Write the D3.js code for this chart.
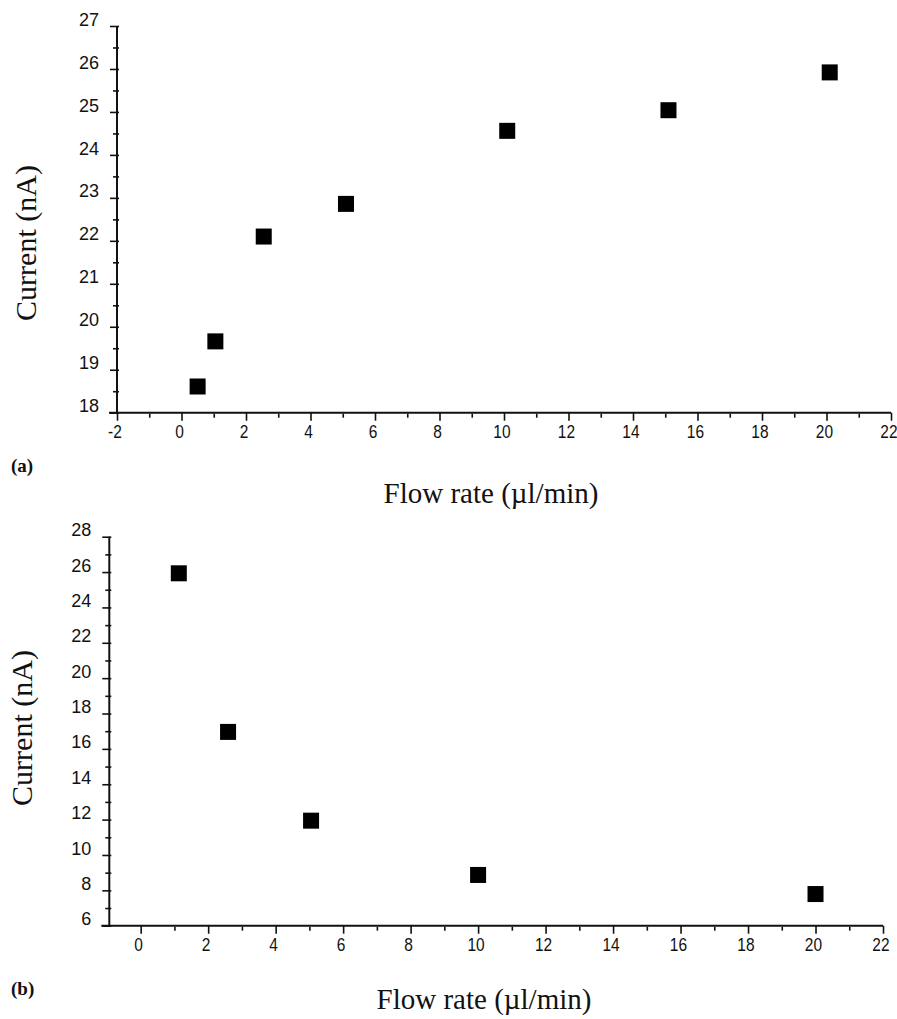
<!DOCTYPE html>
<html>
<head>
<meta charset="utf-8">
<script src="https://cdn.jsdelivr.net/npm/d3@7"></script>
<style>
  html, body { margin: 0; padding: 0; background: #fff; }
  svg { display: block; }
  .tick text { font-family: "Liberation Sans", Arial, sans-serif; font-size: 18px; fill: #111; }
  .title { font-family: "Liberation Serif", "Times New Roman", serif; fill: #111; }
  .panel { font-family: "Liberation Serif", "Times New Roman", serif; font-weight: bold; fill: #111; }
</style>
</head>
<body>
<script>
// Panel (a): current vs flow rate
const flowA = [0.5, 1.05, 2.55, 5.1, 10.1, 15.1, 20.1];
const currentA = [18.61, 19.66, 22.1, 22.86, 24.56, 25.04, 25.92];
const xTicksA = [-2, 0, 2, 4, 6, 8, 10, 12, 14, 16, 18, 20, 22];
const yTicksA = [18, 19, 20, 21, 22, 23, 24, 25, 26, 27];

// Panel (b): current vs flow rate
const flowB = [1.13, 2.59, 5.05, 10.0, 20.0];
const currentB = [25.93, 16.96, 11.94, 8.87, 7.79];
const xTicksB = [0, 2, 4, 6, 8, 10, 12, 14, 16, 18, 20, 22];
const yTicksB = [6, 8, 10, 12, 14, 16, 18, 20, 22, 24, 26, 28];

const W = 897, H = 1019;
const svg = d3.select("body").append("svg").attr("width", W).attr("height", H);

// plain hyphen for negative numbers
const fmt = d => String(d);

function panel(cfg) {
  const x = d3.scaleLinear().domain(cfg.xDomain).range(cfg.xRange);
  const y = d3.scaleLinear().domain(cfg.yDomain).range(cfg.yRange);
  const x0 = cfg.xRange[0], y0 = cfg.yRange[0];

  // minor x ticks
  svg.append("g").attr("transform", `translate(0,${y0})`)
    .call(d3.axisBottom(x).tickValues(cfg.xMinor).tickSize(5).tickFormat(""))
    .call(g => g.select(".domain").remove())
    .call(g => g.selectAll(".tick line").attr("stroke", "#111").attr("stroke-width", 1.6).attr("y1", 1));

  // major x ticks + labels (slightly condensed digits)
  svg.append("g").attr("transform", `translate(0,${y0})`)
    .call(d3.axisBottom(x).tickValues(cfg.xTicks).tickSize(8).tickPadding(5).tickFormat(fmt))
    .call(g => g.select(".domain").remove())
    .call(g => g.selectAll(".tick line").attr("stroke", "#111").attr("stroke-width", 1.6))
    .call(g => g.selectAll(".tick text").attr("dx", -3).attr("transform", "scale(0.86,1)"));

  // minor y ticks
  svg.append("g").attr("transform", `translate(${x0},0)`)
    .call(d3.axisLeft(y).tickValues(cfg.yMinor).tickSize(4).tickFormat(""))
    .call(g => g.select(".domain").remove())
    .call(g => g.selectAll(".tick line").attr("stroke", "#111").attr("stroke-width", 1.6).attr("x1", 2));

  // major y ticks + labels
  svg.append("g").attr("transform", `translate(${x0},0)`)
    .call(d3.axisLeft(y).tickValues(cfg.yTicks).tickSize(7).tickPadding(11).tickFormat(fmt))
    .call(g => g.select(".domain").remove())
    .call(g => g.selectAll(".tick line").attr("stroke", "#111").attr("stroke-width", 1.6).attr("x1", 2))
    .call(g => g.selectAll(".tick text").attr("dy", "-0.05em"));

  // axis lines
  svg.append("line")
    .attr("x1", x0).attr("x2", x0)
    .attr("y1", cfg.yRange[1]).attr("y2", y0)
    .attr("stroke", "#111").attr("stroke-width", 2);
  svg.append("line")
    .attr("x1", x0 - 8).attr("x2", cfg.xRange[1])
    .attr("y1", y0).attr("y2", y0)
    .attr("stroke", "#111").attr("stroke-width", 2);

  // square markers
  const s = 16;
  svg.append("g").selectAll("rect")
    .data(cfg.xs.map((v, i) => [v, cfg.ys[i]]))
    .join("rect")
    .attr("x", d => x(d[0]) - s / 2)
    .attr("y", d => y(d[1]) - s / 2)
    .attr("width", s).attr("height", s)
    .attr("fill", "#000");

  // axis titles
  svg.append("text").attr("class", "title")
    .attr("transform", `translate(${cfg.yTitle[0]},${cfg.yTitle[1]}) rotate(-90)`)
    .attr("text-anchor", "middle").attr("font-size", 30)
    .text("Current (nA)");
  svg.append("text").attr("class", "title")
    .attr("x", cfg.xTitle[0]).attr("y", cfg.xTitle[1])
    .attr("text-anchor", "middle").attr("font-size", 29)
    .text("Flow rate (\u00b5l/min)");
  svg.append("text").attr("class", "panel")
    .attr("x", cfg.tag[0]).attr("y", cfg.tag[1])
    .attr("font-size", 19)
    .text(cfg.tagText);
}

panel({
  xDomain: [-2, 22], xRange: [117, 891],
  yDomain: [18, 27], yRange: [412.7, 26],
  xTicks: xTicksA, xMinor: d3.range(-1, 22, 2),
  yTicks: yTicksA, yMinor: d3.range(18.5, 27, 1),
  xs: flowA, ys: currentA,
  yTitle: [36, 243], xTitle: [491, 503], tag: [11, 472], tagText: "(a)"
});

panel({
  xDomain: [-0.93, 22], xRange: [109.3, 883],
  yDomain: [6, 28], yRange: [925.7, 536.7],
  xTicks: xTicksB, xMinor: d3.range(1, 22, 2),
  yTicks: yTicksB, yMinor: d3.range(7, 28, 2),
  xs: flowB, ys: currentB,
  yTitle: [32, 728], xTitle: [484, 1009], tag: [11, 995], tagText: "(b)"
});
</script>
</body>
</html>
